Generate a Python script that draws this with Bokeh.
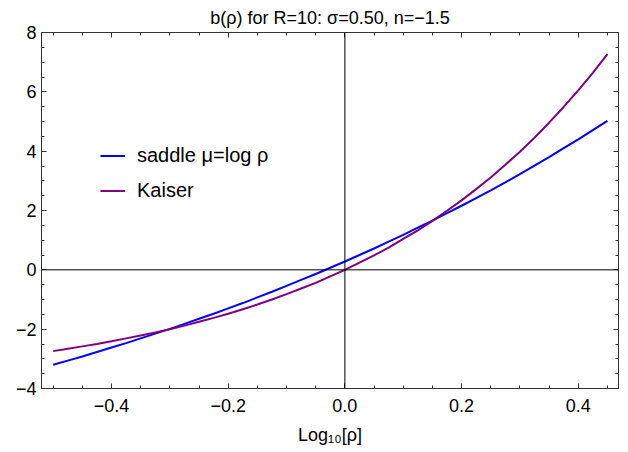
import numpy as np
from bokeh.plotting import figure
from bokeh.models import (Range1d, FixedTicker, LinearAxis, Span, Legend,
                          LegendItem, CustomJSTickFormatter)
from bokeh.embed import file_html
from bokeh.resources import INLINE

# ---- data ----
log_rho = [-0.500, -0.475, -0.450, -0.425, -0.400, -0.375, -0.350, -0.325,
           -0.300, -0.275, -0.250, -0.225, -0.200, -0.175, -0.150, -0.125,
           -0.100, -0.075, -0.050, -0.025, 0.000, 0.025, 0.050, 0.075,
           0.100, 0.125, 0.150, 0.175, 0.200, 0.225, 0.250, 0.275,
           0.300, 0.325, 0.350, 0.375, 0.400, 0.425, 0.450]
b_saddle = [-3.20, -3.06, -2.92, -2.77, -2.62, -2.47, -2.31, -2.15,
            -1.99, -1.82, -1.65, -1.48, -1.30, -1.12, -0.93, -0.74,
            -0.54, -0.34, -0.14, 0.07, 0.28, 0.50, 0.72, 0.95,
            1.18, 1.42, 1.66, 1.91, 2.16, 2.42, 2.68, 2.95,
            3.23, 3.51, 3.80, 4.10, 4.40, 4.71, 5.02]
b_kaiser = [-2.74, -2.66, -2.58, -2.50, -2.41, -2.31, -2.21, -2.11,
            -2.00, -1.88, -1.75, -1.62, -1.48, -1.33, -1.17, -1.00,
            -0.82, -0.63, -0.44, -0.22, 0.00, 0.24, 0.49, 0.75,
            1.04, 1.33, 1.65, 1.99, 2.34, 2.72, 3.11, 3.54,
            3.98, 4.45, 4.96, 5.49, 6.05, 6.64, 7.27]

x_ticks = [-0.4, -0.2, 0.0, 0.2, 0.4]
x_tick_labels = ["\u22120.4", "\u22120.2", "0.0", "0.2", "0.4"]
y_ticks = [-4, -2, 0, 2, 4, 6, 8]
y_tick_labels = ["\u22124", "\u22122", "0", "2", "4", "6", "8"]

title_text = "b(\u03c1) for R=10: \u03c3=0.50, n=\u22121.5"
x_label = "Log\u2081\u2080[\u03c1]"
series_names = ["saddle \u03bc=log \u03c1", "Kaiser"]
series_colors = ["#0000FF", "#800080"]

FONT = "Liberation Sans"

p = figure(width=620, height=452, output_backend="svg", toolbar_location=None,
           x_range=Range1d(-0.52, 0.469), y_range=Range1d(-4, 8),
           min_border_left=41, min_border_right=2, min_border_top=32,
           min_border_bottom=64, x_axis_type=None, y_axis_type=None)
p.background_fill_color = "white"
p.border_fill_color = "white"
p.outline_line_color = "#333333"
p.xgrid.visible = False
p.ygrid.visible = False

p.title.text = title_text
p.title.align = "center"
p.title.text_font = FONT
p.title.text_font_size = "18px"
p.title.text_font_style = "normal"
p.title.text_color = "black"
p.title.standoff = 9

x_minor = [float(v) for v in np.round(np.arange(-0.5, 0.4501, 0.05), 3)]
y_minor = [float(v) for v in np.arange(-4, 8.01, 0.5)]
xt = FixedTicker(ticks=x_ticks, minor_ticks=x_minor)
yt = FixedTicker(ticks=y_ticks, minor_ticks=y_minor)

fmt_code = ("const i = tvals.findIndex(t => Math.abs(t - tick) < 1e-9);"
            "return i >= 0 ? tlabels[i] : '';")
xfmt = CustomJSTickFormatter(args=dict(tvals=x_ticks, tlabels=x_tick_labels), code=fmt_code)
yfmt = CustomJSTickFormatter(args=dict(tvals=y_ticks, tlabels=y_tick_labels), code=fmt_code)
blank = CustomJSTickFormatter(code="return '';")


def style_axis(ax, show_labels):
    ax.axis_line_color = "#333333"
    ax.major_tick_line_color = "#333333"
    ax.minor_tick_line_color = "#333333"
    ax.major_tick_in = 5
    ax.major_tick_out = 0
    ax.minor_tick_in = 3
    ax.minor_tick_out = 0
    ax.major_label_text_font = FONT
    ax.major_label_text_color = "black"
    if show_labels:
        ax.major_label_text_font_size = "18px"
        ax.major_label_standoff = 10
    else:
        ax.major_label_text_font_size = "1px"
        ax.major_label_standoff = 0


bottom = LinearAxis(ticker=xt, formatter=xfmt, axis_label=x_label)
style_axis(bottom, True)
bottom.axis_label_text_font = FONT
bottom.axis_label_text_font_size = "18px"
bottom.axis_label_text_font_style = "normal"
bottom.axis_label_text_color = "black"
bottom.axis_label_standoff = 10
p.add_layout(bottom, "below")

left = LinearAxis(ticker=yt, formatter=yfmt)
style_axis(left, True)
left.major_label_standoff = 5
p.add_layout(left, "left")

top = LinearAxis(ticker=xt, formatter=blank)
style_axis(top, False)
p.add_layout(top, "above")

right = LinearAxis(ticker=yt, formatter=blank)
style_axis(right, False)
p.add_layout(right, "right")

p.add_layout(Span(location=0, dimension="width", line_color="black", line_width=1))
p.add_layout(Span(location=0, dimension="height", line_color="black", line_width=1))

r1 = p.line(log_rho, b_saddle, line_color=series_colors[0], line_width=2)
r2 = p.line(log_rho, b_kaiser, line_color=series_colors[1], line_width=2)

legend = Legend(items=[LegendItem(label=series_names[0], renderers=[r1]),
                       LegendItem(label=series_names[1], renderers=[r2])],
                location=(59, 186), padding=0, margin=0, spacing=12,
                glyph_width=25, glyph_height=23, label_height=23,
                label_standoff=12, label_text_font=FONT,
                label_text_font_size="20px", label_text_color="black",
                border_line_alpha=0, background_fill_alpha=0)
p.add_layout(legend, "center")

open("out.html", "w").write(file_html(p, INLINE))
